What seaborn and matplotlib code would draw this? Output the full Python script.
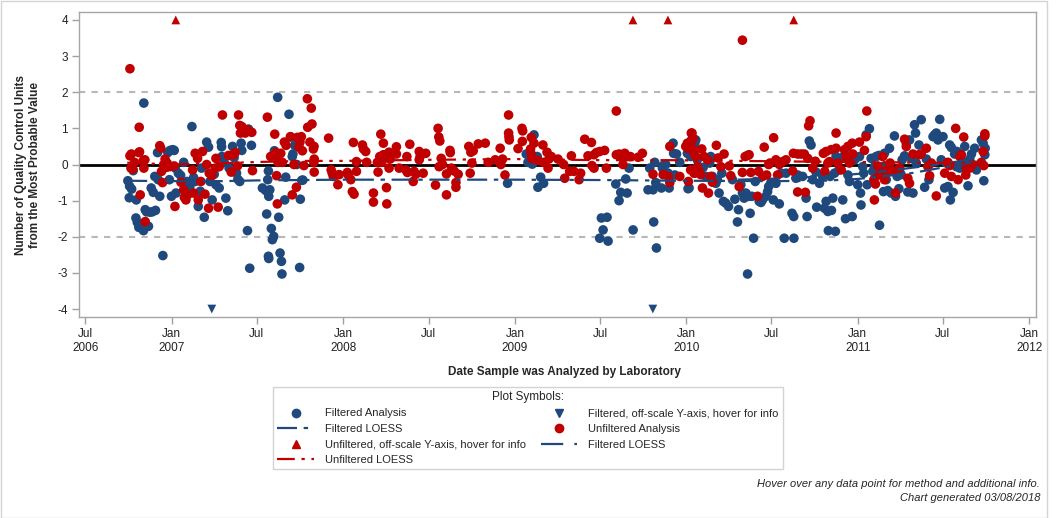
import numpy as np
import pandas as pd
import matplotlib
matplotlib.use("Agg")
import matplotlib.pyplot as plt
from matplotlib.lines import Line2D
from matplotlib.patches import Rectangle
import seaborn as sns

# dates are decimal years
filt_year = [
    2006.744, 2006.754, 2006.766, 2006.752, 2006.775, 2006.793, 2006.791, 2006.799, 2006.808, 2006.837,
    2006.835, 2006.845, 2006.853, 2006.864, 2006.874, 2006.886, 2006.905, 2006.880, 2006.892, 2006.921,
    2006.901, 2006.917, 2006.930, 2006.948, 2006.977, 2006.990, 2007.006, 2007.015, 2006.986, 2006.998,
    2007.025, 2007.021, 2007.039, 2007.052, 2007.070, 2007.089, 2007.106, 2007.118, 2007.128, 2007.137,
    2007.155, 2007.167, 2007.174, 2007.190, 2007.204, 2007.215, 2007.223, 2007.236, 2007.248, 2007.258,
    2007.277, 2007.289, 2007.291, 2007.293, 2007.306, 2007.316, 2007.327, 2007.335, 2007.355, 2007.364,
    2007.378, 2007.386, 2007.397, 2007.405, 2007.409, 2007.442, 2007.448, 2007.455, 2007.465, 2007.529,
    2007.548, 2007.564, 2007.560, 2007.566, 2007.572, 2007.581, 2007.587, 2007.595, 2007.599, 2007.554,
    2007.564, 2007.566, 2007.618, 2007.624, 2007.632, 2007.640, 2007.643, 2007.659, 2007.665, 2007.684,
    2007.694, 2007.703, 2007.707, 2007.717, 2007.729, 2007.740, 2007.746, 2007.750, 2007.758, 2007.765,
    2008.959, 2009.066, 2009.076, 2009.095, 2009.101, 2009.111, 2009.130, 2009.150, 2009.134, 2009.167,
    2009.494, 2009.504, 2009.514, 2009.537, 2009.543, 2009.588, 2009.607, 2009.617, 2009.646, 2009.654,
    2009.665, 2009.689, 2009.776, 2009.786, 2009.805, 2009.809, 2009.815, 2009.821, 2009.825, 2009.854,
    2009.860, 2009.864, 2009.879, 2009.893, 2009.899, 2009.922, 2009.925, 2009.942, 2009.932, 2009.961,
    2010.010, 2010.012, 2010.030, 2010.049,
    2010.016, 2010.006, 2010.025, 2010.055, 2010.064, 2010.098, 2010.113, 2010.136, 2010.142, 2010.152,
    2010.172, 2010.181, 2010.191, 2010.207, 2010.216, 2010.230, 2010.246, 2010.269, 2010.283, 2010.298,
    2010.304, 2010.318, 2010.327, 2010.337, 2010.347, 2010.357, 2010.366, 2010.372, 2010.382, 2010.392,
    2010.402, 2010.425, 2010.435, 2010.444, 2010.464, 2010.474, 2010.480, 2010.493, 2010.507, 2010.522,
    2010.542, 2010.552, 2010.571, 2010.581, 2010.616, 2010.626, 2010.627, 2010.639, 2010.649, 2010.678,
    2010.698, 2010.704, 2010.717, 2010.727, 2010.737, 2010.756, 2010.760, 2010.776, 2010.795, 2010.805,
    2010.815, 2010.825, 2010.828, 2010.838, 2010.846, 2010.854, 2010.864, 2010.869, 2010.873, 2010.889,
    2010.912, 2010.916, 2010.928, 2010.942, 2010.951, 2010.967, 2010.981, 2011.000, 2011.010, 2011.016,
    2011.019, 2011.029, 2011.035, 2011.049, 2011.055, 2011.068, 2011.078, 2011.088, 2011.097, 2011.107,
    2011.123, 2011.127, 2011.133, 2011.146, 2011.150, 2011.156, 2011.166, 2011.175, 2011.185, 2011.195,
    2011.214, 2011.220, 2011.230, 2011.240, 2011.244, 2011.253, 2011.259, 2011.273, 2011.283, 2011.292,
    2011.302, 2011.312, 2011.322, 2011.331, 2011.337, 2011.341, 2011.357, 2011.370, 2011.390, 2011.400,
    2011.415, 2011.439, 2011.448, 2011.458, 2011.468, 2011.478, 2011.487, 2011.497, 2011.507, 2011.517,
    2011.526, 2011.536, 2011.540, 2011.546, 2011.556, 2011.565, 2011.575, 2011.579, 2011.595, 2011.610,
    2011.624, 2011.643, 2011.653, 2011.663, 2011.682, 2011.692, 2011.721, 2011.735, 2011.741, 2011.743,
    2011.731,
]
filt_value = [
    -0.45, -0.60, -0.68, -0.92, -0.17, -0.98, -1.48, -1.60, -1.74, 1.70,
    -1.83, -1.25, -1.31, -1.71, -1.32, -1.31, -1.27, -0.65, -0.77, -0.42,
    -0.33, 0.33, -0.88, -2.52, 0.33, 0.39, 0.41, 0.39, -0.42, -0.88,
    -0.79, -0.10, -0.24, -0.30, 0.06, -0.47, -0.60, 1.05, -0.36, -0.47,
    -1.16, -0.74, -0.10, -1.46, 0.62, 0.48, -0.47, -0.98, -0.27, -0.56,
    -0.65, 0.61, 0.49, 0.22, 0.06, -0.93, -1.28, -0.10, 0.50, 0.19,
    -0.24, -0.41, -0.47, 0.59, 0.39, -1.83, 0.98, -2.87, 0.53, -0.65,
    -0.72, -0.18, -0.42, -0.88, -0.70, -1.77, -2.08, -1.99, 0.38, -1.37,
    -2.54, -2.60, 1.86, -1.46, -2.45, -2.68, -3.03, -0.98, -0.35, 1.39,
    0.76, 0.22, 0.29, 0.53, 0.00, 0.56, -2.85, -0.96, -0.44, -0.43,
    -0.52, 0.29, 0.06, 0.04, 0.01, 0.82, 0.22, -0.35, -0.63, -0.52,
    -2.04, -1.48, -1.81, -1.46, -2.12, -0.54, -1.00, -0.77, -0.40, -0.79,
    -0.10, -1.81, -0.70, -0.10, -0.70, -1.59, 0.06, -0.50, -2.31, -0.65,
    -0.10, -0.03, 0.00, -0.24, -0.65, 0.59, 0.31, 0.29, -0.29, 0.06,
    -0.67, 0.31, 0.68, 0.59,
    -0.65, 0.31, 0.22, 0.68, 0.13, -0.08, -0.33, 0.04, 0.22, -0.33,
    -0.52, -0.42, -0.79, -0.24, -1.02, -1.07, -1.16, -0.42, -0.96, -1.59,
    -1.25, -0.56, -0.79, -0.93, -0.79, -3.03, -0.88, -1.35, -0.88, -2.04,
    -0.47, -1.02, -1.05, -0.98, -0.88, -0.75, -0.61, -0.50, -0.98, -0.52,
    -1.09, -0.24, -2.04, -0.24, -1.35, -1.44, -2.04, -0.38, -0.29, -0.33,
    -0.93, -1.44, 0.65, 0.54, -0.42, -0.21, -1.18, -0.52, -0.33, -1.21,
    -1.02, -1.30, -1.83, -0.33, -1.27, -0.93, -0.24, -1.85, 0.22, -0.15,
    -0.98, 0.22, -1.50, -0.29, -0.47, -1.44, 0.13, -0.56, 0.22, -0.79,
    -1.12, -0.06, -0.24, 0.82, -0.56, 0.99, 0.17, -0.19, -0.06, 0.22,
    0.25, -1.68, -0.24, -0.06, -0.75, 0.31, -0.42, -0.72, 0.45, -0.79,
    0.79, -0.88, -0.33, -0.67, -0.19, -0.28, 0.13, 0.24, 0.59, -0.76,
    0.68, 0.17, -0.79, 1.10, 0.87, 0.04, 0.54, 1.24, -0.63, 0.15,
    -0.42, 0.77, 0.82, 0.87, 0.68, 1.25, 0.13, 0.77, -0.65, 0.04,
    -0.61, 0.54, -0.98, 0.47, -0.77, 0.29, -0.06, 0.36, -0.10, 0.08,
    0.50, -0.59, 0.15, 0.29, 0.45, -0.15, 0.68, -0.45, 0.27, 0.45,
    0.59,
]

unfilt_year = [
    2006.756, 2006.756, 2006.764, 2006.762, 2006.773, 2006.783, 2006.810, 2006.808, 2006.812, 2006.816,
    2006.833, 2006.843, 2006.837, 2006.845, 2006.930, 2006.936, 2006.940, 2006.946, 2006.953, 2006.961,
    2006.967, 2006.973, 2006.986, 2007.015, 2007.019, 2007.054, 2007.070, 2007.074, 2007.083, 2007.093,
    2007.122, 2007.128, 2007.137, 2007.151, 2007.155, 2007.170, 2007.180, 2007.194, 2007.204, 2007.215,
    2007.219, 2007.234, 2007.254, 2007.258, 2007.271, 2007.277, 2007.296, 2007.331, 2007.347, 2007.360,
    2007.370, 2007.384, 2007.390, 2007.397, 2007.401, 2007.409, 2007.417, 2007.428, 2007.442, 2007.467,
    2007.471, 2007.558, 2007.577, 2007.591, 2007.601, 2007.607, 2007.612, 2007.616, 2007.620, 2007.626,
    2007.636, 2007.645, 2007.657, 2007.667, 2007.692, 2007.703, 2007.713, 2007.727, 2007.733, 2007.742,
    2007.748, 2007.756, 2007.762, 2007.771, 2007.791, 2007.793, 2007.806, 2007.814, 2007.818, 2007.826,
    2007.831, 2007.830, 2007.829, 2007.831, 2007.915, 2007.930, 2007.936, 2007.942, 2007.957, 2007.969,
    2007.977,
    2008.025, 2008.031, 2008.045, 2008.060, 2008.054, 2008.064, 2008.078, 2008.078, 2008.113, 2008.119,
    2008.132, 2008.138, 2008.177, 2008.177, 2008.200, 2008.204, 2008.214, 2008.220, 2008.226, 2008.235,
    2008.235, 2008.253, 2008.255, 2008.268, 2008.268, 2008.274, 2008.311, 2008.311, 2008.327, 2008.366,
    2008.372, 2008.375, 2008.389, 2008.409, 2008.414, 2008.424, 2008.444, 2008.444, 2008.449, 2008.467,
    2008.482, 2008.539, 2008.554, 2008.558, 2008.564, 2008.560, 2008.572, 2008.580, 2008.603, 2008.603,
    2008.623, 2008.625, 2008.632, 2008.648, 2008.658, 2008.658, 2008.671, 2008.733, 2008.741, 2008.745,
    2008.751, 2008.759, 2008.788, 2008.829, 2008.846, 2008.887, 2008.916, 2008.920, 2008.930, 2008.944,
    2008.965, 2008.965, 2008.967, 2008.969, 2009.018, 2009.041, 2009.045, 2009.043, 2009.095, 2009.091,
    2009.095, 2009.099, 2009.111, 2009.134, 2009.163, 2009.167, 2009.187, 2009.193, 2009.198, 2009.212,
    2009.251, 2009.284, 2009.290, 2009.319, 2009.329, 2009.344, 2009.374, 2009.383, 2009.407, 2009.426,
    2009.446, 2009.449, 2009.461, 2009.461, 2009.475, 2009.494, 2009.523, 2009.533, 2009.591, 2009.591,
    2009.607, 2009.626, 2009.630, 2009.640, 2009.673, 2009.718, 2009.743, 2009.805, 2009.864, 2009.893,
    2009.903, 2009.903, 2009.961, 2010.010, 2010.020, 2010.033, 2010.039, 2010.043, 2010.049,
    2010.327, 2009.996, 2010.006, 2010.029, 2010.035, 2010.045, 2010.012, 2010.025, 2010.045, 2010.055,
    2010.064, 2010.074, 2010.084, 2010.090, 2010.094, 2010.103, 2010.123, 2010.129, 2010.142, 2010.152,
    2010.175, 2010.185, 2010.201, 2010.220, 2010.250, 2010.259, 2010.308, 2010.327, 2010.343, 2010.357,
    2010.366, 2010.376, 2010.415, 2010.421, 2010.444, 2010.454, 2010.468, 2010.480, 2010.487, 2010.509,
    2010.522, 2010.532, 2010.542, 2010.561, 2010.581, 2010.620, 2010.624, 2010.649, 2010.649, 2010.669,
    2010.688, 2010.694, 2010.708, 2010.713, 2010.721, 2010.737, 2010.752, 2010.799, 2010.807, 2010.815,
    2010.825, 2010.834, 2010.844, 2010.873, 2010.873, 2010.883, 2010.903, 2010.922, 2010.932, 2010.942,
    2010.951, 2010.967, 2010.971, 2011.010, 2011.039, 2011.049, 2011.053, 2011.094, 2011.097, 2011.103,
    2011.117, 2011.127, 2011.146, 2011.156, 2011.170, 2011.181, 2011.189, 2011.205, 2011.220, 2011.244,
    2011.273, 2011.283, 2011.292, 2011.302, 2011.322, 2011.357, 2011.370, 2011.400, 2011.409, 2011.419,
    2011.429, 2011.458, 2011.507, 2011.526, 2011.536, 2011.546, 2011.571, 2011.585, 2011.595, 2011.604,
    2011.618, 2011.630, 2011.633, 2011.653, 2011.669, 2011.721, 2011.731, 2011.741, 2011.741, 2011.735,
]
unfilt_value = [
    2.65, 0.24, 0.29, -0.10, -0.13, 0.06, 1.03, 0.33, 0.35, -0.84,
    0.10, 0.13, -0.10, -1.58, 0.52, 0.45, -0.19, -0.50, 0.00, 0.15,
    -0.08, 0.04, -0.06, -0.04, -1.16, -0.49, -0.70, -0.91, -0.98, -0.84,
    -0.15, -0.79, 0.31, 0.17, -0.98, -0.47, 0.36, -0.82, 0.00, -1.21,
    -0.24, -0.31, -0.10, 0.17, -1.18, -0.06, 1.37, 0.25, -0.21, 0.27,
    0.33, -0.04, 1.37, 1.08, 0.87, 1.05, 0.94, 0.87, 0.96, 0.89,
    -0.17, 1.31, 0.22, 0.24, 0.84, 0.33, -0.31, -1.09, 0.06, 0.29,
    0.31, 0.06, 0.62, 0.53, 0.77, -0.84, 0.00, -0.63, 0.75, 0.48,
    0.62, 0.77, 0.38, -0.03, 1.82, 1.03, 0.62, 1.56, 1.12, 0.43,
    0.15, 0.50, 0.06, -0.21, 0.73, -0.15, -0.24, -0.33, -0.30, -0.56,
    -0.28,
    -0.22, -0.30, -0.42, 0.61, -0.75, -0.82, 0.08, -0.19, 0.54, 0.43,
    0.36, 0.06, -0.79, -1.04, 0.06, -0.21, 0.22, 0.84, 0.06, 0.59,
    0.27, -0.64, -1.09, 0.34, -0.10, 0.15, 0.49, 0.29, -0.10, -0.15,
    0.22, -0.22, 0.56, -0.47, -0.19, -0.27, 0.36, 0.13, 0.22, -0.24,
    0.31, -0.57, 1.00, 0.76, 0.65, -0.06, 0.17, 0.00, -0.84, -0.26,
    0.39, 0.33, -0.10, -0.18, -0.50, -0.63, -0.27, 0.50, -0.24, 0.34,
    0.04, 0.38, 0.57, 0.59, 0.06, 0.13, 0.45, 0.00, 0.15, -0.29,
    1.37, 0.87, 0.77, 0.68, 0.44, 1.00, 0.93, 0.64, 0.75, 0.43,
    0.29, 0.16, 0.59, 0.11, 0.54, 0.06, 0.34, -0.10, 0.15, 0.22,
    0.15, 0.00, -0.38, -0.19, 0.24, -0.19, -0.42, -0.24, 0.70, 0.24,
    0.61, -0.03, -0.10, 0.27, 0.33, 0.36, 0.39, -0.10, 1.48, 0.27,
    0.29, 0.20, 0.00, 0.31, 0.22, 0.20, 0.31, -0.27, -0.28, -0.33,
    0.50, -0.50, -0.33, 0.45, 0.56, 0.87, 0.73, 0.41, -0.24,
    3.44, 0.50, 0.59, 0.87, 0.68, 0.31, -0.47, -0.15, -0.24, 0.22,
    -0.06, -0.19, -0.28, 0.43, -0.65, 0.22, 0.13, -0.79, -0.33, -0.49,
    0.53, 0.18, -0.06, 0.29, -0.04, -0.31, -0.61, -0.22, 0.22, 0.25,
    0.27, -0.22, -0.88, -0.19, -0.33, 0.48, -0.29, 0.00, 0.04, 0.74,
    0.13, -0.29, 0.00, 0.08, 0.13, -0.18, 0.31, 0.29, -0.76, 0.29,
    0.29, -0.77, 0.17, 1.07, 1.21, -0.10, 0.09, 0.31, -0.19, 0.36,
    0.04, 0.08, 0.41, 0.87, 0.45, 0.04, -0.15, 0.41, 0.22, 0.50,
    0.04, 0.59, 0.29, 0.62, 0.39, 0.77, 1.48, -0.42, -0.98, -0.54,
    -0.04, -0.29, 0.22, -0.42, -0.15, -0.19, 0.04, -0.19, -0.79, -0.10,
    0.70, 0.50, -0.38, -0.52, 0.29, 0.27, 0.29, 0.45, -0.06, -0.31,
    0.04, -0.87, -0.24, 0.06, -0.03, -0.33, 1.00, -0.42, 0.22, 0.27,
    0.76, -0.29, -0.10, -0.10, 0.00, 0.06, 0.36, 0.79, 0.85, -0.03,
]

# off-scale points (drawn at the axis limit)
filt_off_year = [2007.234, 2009.804]
filt_off_value = [-4, -4]
unfilt_off_year = [2007.024, 2009.688, 2009.892, 2010.626]
unfilt_off_value = [4, 4, 4, 4]

# LOESS curves
loess_f_year = [2006.74, 2007.0, 2007.3, 2007.5, 2008.0, 2008.5, 2009.0, 2009.5, 2010.0, 2010.5, 2010.8, 2011.0, 2011.3, 2011.5, 2011.74]
loess_f_value = [-0.45, -0.46, -0.46, -0.44, -0.42, -0.42, -0.42, -0.43, -0.45, -0.46, -0.45, -0.40, -0.25, -0.08, 0.12]
loess_f2_year = [2010.3, 2010.6, 2010.9, 2011.1, 2011.3, 2011.5, 2011.74]
loess_f2_value = [-0.42, -0.38, -0.30, -0.22, -0.10, 0.02, 0.20]
loess_u_year = [2006.74, 2007.0, 2007.2, 2007.5, 2007.8, 2008.0, 2008.5, 2009.0, 2009.5, 2009.9, 2010.3, 2010.7, 2011.0, 2011.4, 2011.74]
loess_u_value = [0.05, 0.00, 0.02, 0.07, 0.10, 0.10, 0.13, 0.15, 0.12, 0.12, 0.10, 0.08, 0.07, 0.05, 0.05]

tick_dates = ["2006-07-01", "2007-01-01", "2007-07-01", "2008-01-01", "2008-07-01", "2009-01-01",
              "2009-07-01", "2010-01-01", "2010-07-01", "2011-01-01", "2011-07-01", "2012-01-01"]
tick_labels = ["Jul\n2006", "Jan\n2007", "Jul", "Jan\n2008", "Jul", "Jan\n2009",
               "Jul", "Jan\n2010", "Jul", "Jan\n2011", "Jul", "Jan\n2012"]

BLUE = "#1f497d"
RED = "#c00000"


def to_dates(years):
    yrs = np.asarray(years, dtype=float)
    whole = np.floor(yrs).astype(int)
    base = pd.to_datetime([f"{y}-01-01" for y in whole])
    return base + pd.to_timedelta((yrs - whole) * 365.25, unit="D")


filt = pd.DataFrame({"date": to_dates(filt_year), "value": filt_value})
unfilt = pd.DataFrame({"date": to_dates(unfilt_year), "value": unfilt_value})
filt_off = pd.DataFrame({"date": to_dates(filt_off_year), "value": filt_off_value})
unfilt_off = pd.DataFrame({"date": to_dates(unfilt_off_year), "value": unfilt_off_value})
loess_f = pd.DataFrame({"date": to_dates(loess_f_year), "value": loess_f_value})
loess_f2 = pd.DataFrame({"date": to_dates(loess_f2_year), "value": loess_f2_value})
loess_u = pd.DataFrame({"date": to_dates(loess_u_year), "value": loess_u_value})

sns.set_theme(style="white")
plt.rcParams["font.family"] = ["Liberation Sans", "DejaVu Sans"]
plt.rcParams["axes.unicode_minus"] = False

fig = plt.figure(figsize=(10.56, 5.18), dpi=100)
ax = fig.add_axes([79 / 1056, 1 - 317 / 518, (1036 - 79) / 1056, (317 - 12) / 518])

# reference lines
ax.axhline(0, color="black", lw=2, zorder=1)
for yv in (2, -2):
    ax.axhline(yv, color="#b8b8b8", lw=1.5, ls=(0, (3, 3)), zorder=1)

sns.scatterplot(data=filt, x="date", y="value", color=BLUE, s=48, edgecolor="none", ax=ax, zorder=2)
sns.scatterplot(data=unfilt, x="date", y="value", color=RED, s=48, edgecolor="none", ax=ax, zorder=2)
sns.scatterplot(data=filt_off, x="date", y="value", color=BLUE, marker="v", s=40, edgecolor="none",
                ax=ax, zorder=3, clip_on=False)
sns.scatterplot(data=unfilt_off, x="date", y="value", color=RED, marker="^", s=40, edgecolor="none",
                ax=ax, zorder=3, clip_on=False)

dash_f = (0, (9, 3, 2, 3))
dash_f2 = (0, (10, 5, 4, 5))
dash_u = (0, (8, 3, 1.5, 3, 1.5, 3))
sns.lineplot(data=loess_f, x="date", y="value", color=BLUE, lw=1.6, linestyle=dash_f, ax=ax, zorder=4)
sns.lineplot(data=loess_f2, x="date", y="value", color=BLUE, lw=1.6, linestyle=dash_f2, ax=ax, zorder=4)
sns.lineplot(data=loess_u, x="date", y="value", color=RED, lw=1.6, linestyle=dash_u, ax=ax, zorder=4)

ax.set_ylim(-4.22, 4.22)
ax.set_xlim(to_dates([2006.459, 2012.04]))
ax.set_yticks([-4, -3, -2, -1, 0, 1, 2, 3, 4])
ax.set_xticks(pd.to_datetime(tick_dates))
ax.set_xticklabels(tick_labels)
ax.tick_params(axis="both", which="major", direction="out", length=5, width=1, color="#a0a0a0",
               labelsize=8.5, labelcolor="#222222", pad=3, bottom=True, left=True)
ax.set_xlabel("")
ax.set_ylabel("")
for sp in ax.spines.values():
    sp.set_color("#a6a6a6")
    sp.set_linewidth(1)

fig.text(28 / 1056, 1 - 165 / 518, "Number of Quality Control Units\nfrom the Most Probable Value",
         rotation=90, ha="center", va="center", fontsize=8.5, fontweight="bold", linespacing=1.15)
fig.text(564 / 1056, 1 - 372 / 518, "Date Sample was Analyzed by Laboratory",
         ha="center", va="center", fontsize=8.5, fontweight="bold")

handles = [
    Line2D([], [], ls="none", marker="o", color=BLUE, markersize=6),
    Line2D([], [], color=BLUE, lw=1.6, ls=dash_f),
    Line2D([], [], ls="none", marker="^", color=RED, markersize=6),
    Line2D([], [], color=RED, lw=1.6, ls=dash_u),
    Line2D([], [], ls="none", marker="v", color=BLUE, markersize=6),
    Line2D([], [], ls="none", marker="o", color=RED, markersize=6),
    Line2D([], [], color=BLUE, lw=1.6, ls=dash_f2),
]
labels = ["Filtered Analysis", "Filtered LOESS", "Unfiltered, off-scale Y-axis, hover for info",
          "Unfiltered LOESS", "Filtered, off-scale Y-axis, hover for info", "Unfiltered Analysis",
          "Filtered LOESS"]
leg = fig.legend(handles, labels, ncol=2, loc="upper center", bbox_to_anchor=(528 / 1056, 1 - 387 / 518),
                 title="Plot Symbols:", fontsize=8, title_fontsize=8.5, frameon=True, fancybox=False,
                 edgecolor="#c8c8c8", handlelength=3.3, handletextpad=1.0, columnspacing=1.3,
                 labelspacing=0.5, borderpad=0.35, borderaxespad=0)
leg.get_frame().set_linewidth(1)

fig.text(1040 / 1056, 1 - 484 / 518, "Hover over any data point for method and additional info.",
         ha="right", va="center", fontsize=8, style="italic")
fig.text(1040 / 1056, 1 - 498 / 518, "Chart generated 03/08/2018",
         ha="right", va="center", fontsize=8, style="italic")

fig.patches.append(Rectangle((0.5 / 1056, 0.5 / 518), 1046 / 1056, 516.5 / 518, transform=fig.transFigure,
                             fill=False, edgecolor="#d4d4d4", lw=1))

fig.savefig("out.png", dpi=100)
